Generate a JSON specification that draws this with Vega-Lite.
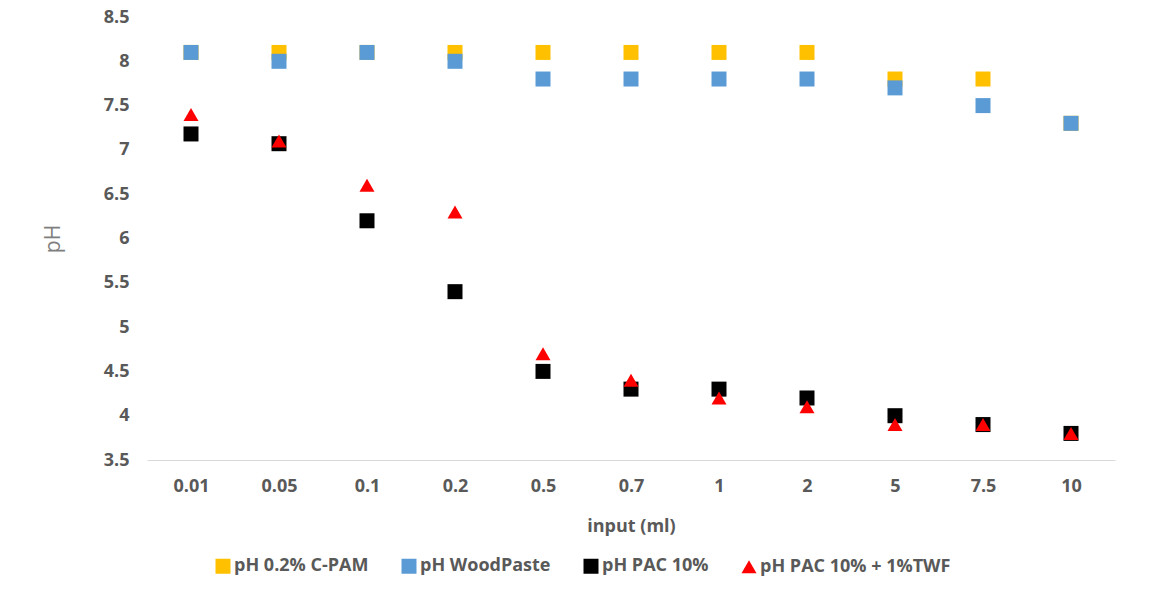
{
  "$schema": "https://vega.github.io/schema/vega-lite/v6.json",
  "width": 968,
  "height": 443,
  "autosize": {"type": "none"},
  "padding": {"left": 147, "top": 17, "right": 50, "bottom": 133},
  "background": "white",
  "config": {
    "view": {"stroke": null},
    "font": "Open Sans"
  },
  "data": {
    "values": [
      {"input": "0.01", "series": "pH 0.2% C-PAM", "pH": 8.1},
      {"input": "0.05", "series": "pH 0.2% C-PAM", "pH": 8.1},
      {"input": "0.1", "series": "pH 0.2% C-PAM", "pH": 8.1},
      {"input": "0.2", "series": "pH 0.2% C-PAM", "pH": 8.1},
      {"input": "0.5", "series": "pH 0.2% C-PAM", "pH": 8.1},
      {"input": "0.7", "series": "pH 0.2% C-PAM", "pH": 8.1},
      {"input": "1", "series": "pH 0.2% C-PAM", "pH": 8.1},
      {"input": "2", "series": "pH 0.2% C-PAM", "pH": 8.1},
      {"input": "5", "series": "pH 0.2% C-PAM", "pH": 7.8},
      {"input": "7.5", "series": "pH 0.2% C-PAM", "pH": 7.8},
      {"input": "10", "series": "pH 0.2% C-PAM", "pH": 7.3},
      {"input": "0.01", "series": "pH WoodPaste", "pH": 8.1},
      {"input": "0.05", "series": "pH WoodPaste", "pH": 8.0},
      {"input": "0.1", "series": "pH WoodPaste", "pH": 8.1},
      {"input": "0.2", "series": "pH WoodPaste", "pH": 8.0},
      {"input": "0.5", "series": "pH WoodPaste", "pH": 7.8},
      {"input": "0.7", "series": "pH WoodPaste", "pH": 7.8},
      {"input": "1", "series": "pH WoodPaste", "pH": 7.8},
      {"input": "2", "series": "pH WoodPaste", "pH": 7.8},
      {"input": "5", "series": "pH WoodPaste", "pH": 7.7},
      {"input": "7.5", "series": "pH WoodPaste", "pH": 7.5},
      {"input": "10", "series": "pH WoodPaste", "pH": 7.3},
      {"input": "0.01", "series": "pH PAC 10%", "pH": 7.18},
      {"input": "0.05", "series": "pH PAC 10%", "pH": 7.07},
      {"input": "0.1", "series": "pH PAC 10%", "pH": 6.2},
      {"input": "0.2", "series": "pH PAC 10%", "pH": 5.4},
      {"input": "0.5", "series": "pH PAC 10%", "pH": 4.5},
      {"input": "0.7", "series": "pH PAC 10%", "pH": 4.3},
      {"input": "1", "series": "pH PAC 10%", "pH": 4.3},
      {"input": "2", "series": "pH PAC 10%", "pH": 4.2},
      {"input": "5", "series": "pH PAC 10%", "pH": 4.0},
      {"input": "7.5", "series": "pH PAC 10%", "pH": 3.9},
      {"input": "10", "series": "pH PAC 10%", "pH": 3.8},
      {"input": "0.01", "series": "pH PAC 10% + 1%TWF", "pH": 7.4},
      {"input": "0.05", "series": "pH PAC 10% + 1%TWF", "pH": 7.1},
      {"input": "0.1", "series": "pH PAC 10% + 1%TWF", "pH": 6.6},
      {"input": "0.2", "series": "pH PAC 10% + 1%TWF", "pH": 6.3},
      {"input": "0.5", "series": "pH PAC 10% + 1%TWF", "pH": 4.7},
      {"input": "0.7", "series": "pH PAC 10% + 1%TWF", "pH": 4.4},
      {"input": "1", "series": "pH PAC 10% + 1%TWF", "pH": 4.2},
      {"input": "2", "series": "pH PAC 10% + 1%TWF", "pH": 4.1},
      {"input": "5", "series": "pH PAC 10% + 1%TWF", "pH": 3.9},
      {"input": "7.5", "series": "pH PAC 10% + 1%TWF", "pH": 3.9},
      {"input": "10", "series": "pH PAC 10% + 1%TWF", "pH": 3.8}
    ]
  },
  "mark": {"type": "point", "filled": true, "opacity": 1},
  "encoding": {
    "x": {
      "field": "input",
      "type": "ordinal",
      "sort": ["0.01", "0.05", "0.1", "0.2", "0.5", "0.7", "1", "2", "5", "7.5", "10"],
      "scale": {"type": "point", "padding": 0.5},
      "axis": {
        "title": "input (ml)",
        "labelAngle": 0,
        "labelFontSize": 18,
        "labelFontWeight": "bold",
        "labelColor": "#595959",
        "labelPadding": 17,
        "ticks": false,
        "domainColor": "#d9d9d9",
        "domainWidth": 1,
        "titleFontSize": 18,
        "titleFontWeight": "bold",
        "titleColor": "#595959",
        "titlePadding": 22
      }
    },
    "y": {
      "field": "pH",
      "type": "quantitative",
      "scale": {"domain": [3.5, 8.5], "nice": false, "zero": false},
      "axis": {
        "title": "pH",
        "values": [3.5, 4, 4.5, 5, 5.5, 6, 6.5, 7, 7.5, 8, 8.5],
        "labelExpr": "'' + datum.value",
        "grid": false,
        "domain": false,
        "ticks": false,
        "labelFontSize": 18,
        "labelFontWeight": "bold",
        "labelColor": "#595959",
        "labelPadding": 18,
        "titleFontSize": 21,
        "titleFontWeight": "normal",
        "titleColor": "#7f7f7f",
        "titlePadding": 40
      }
    },
    "color": {
      "field": "series",
      "type": "nominal",
      "sort": null,
      "scale": {
        "domain": ["pH 0.2% C-PAM", "pH WoodPaste", "pH PAC 10%", "pH PAC 10% + 1%TWF"],
        "range": ["#FFC000", "#5B9BD5", "#000000", "#FF0000"]
      },
      "legend": {
        "title": null,
        "orient": "none",
        "direction": "horizontal",
        "legendX": 67,
        "legendY": 540,
        "labelFontSize": 18,
        "labelFontWeight": "bold",
        "labelColor": "#595959",
        "labelLimit": 400,
        "labelOffset": 2,
        "columnPadding": 29,
        "symbolSize": 110,
        "symbolOpacity": 1
      }
    },
    "shape": {
      "field": "series",
      "type": "nominal",
      "sort": null,
      "scale": {
        "domain": ["pH 0.2% C-PAM", "pH WoodPaste", "pH PAC 10%", "pH PAC 10% + 1%TWF"],
        "range": ["square", "square", "square", "triangle-up"]
      }
    },
    "size": {
      "field": "series",
      "type": "nominal",
      "scale": {
        "domain": ["pH 0.2% C-PAM", "pH WoodPaste", "pH PAC 10%", "pH PAC 10% + 1%TWF"],
        "range": [225, 225, 225, 300]
      },
      "legend": null
    }
  }
}
